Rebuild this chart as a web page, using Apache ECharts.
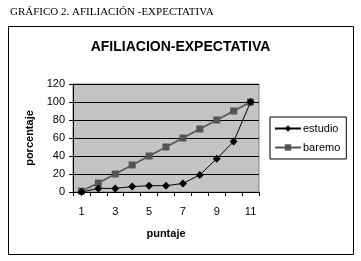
<!DOCTYPE html>
<html>
<head>
<meta charset="utf-8">
<script src="https://cdn.jsdelivr.net/npm/echarts@6/dist/echarts.min.js"></script>
<style>
  html, body { margin: 0; padding: 0; background: #fff; }
  #main { width: 361px; height: 261px; }
</style>
</head>
<body>
<div id="main"></div>
<script>
// data
const puntaje = ['1', '2', '3', '4', '5', '6', '7', '8', '9', '10', '11']
const estudio = [0, 4, 4, 6, 7, 7, 9.5, 19, 37, 56, 100]
const baremo = [1, 10, 20, 30, 40, 50, 60, 70, 80, 90, 100]

const myChart = echarts.init(document.getElementById('main'))
const font = 'Liberation Sans, Arial, sans-serif'

const option = {
  animation: false,
  backgroundColor: '#fff',
  textStyle: { fontFamily: font },
  graphic: [
    {
      type: 'text',
      left: 10,
      top: 7,
      style: {
        text: 'GRÁFICO 2. AFILIACIÓN -EXPECTATIVA',
        font: '11px "Liberation Serif", "Times New Roman", serif',
        fill: '#000'
      }
    },
    {
      type: 'rect',
      shape: { x: 8.5, y: 26.5, width: 345, height: 228 },
      style: { fill: 'none', stroke: '#000', lineWidth: 1 },
      z: 10
    }
  ],
  title: {
    text: 'AFILIACION-EXPECTATIVA',
    left: 'center',
    top: 35,
    textStyle: { fontSize: 14, fontWeight: 'bold', color: '#000', fontFamily: font }
  },
  legend: {
    orient: 'vertical',
    left: 270,
    top: 117,
    itemWidth: 26,
    itemHeight: 8,
    itemGap: 8,
    padding: [6, 6, 6, 4],
    borderColor: '#000',
    borderWidth: 1,
    backgroundColor: '#fff',
    textStyle: { fontSize: 11, color: '#000', fontFamily: font, padding: [0, 0, 0, -3] },
    data: ['estudio', 'baremo']
  },
  grid: {
    left: 73,
    top: 84,
    width: 186,
    height: 108,
    show: true,
    backgroundColor: '#c4c4c4',
    borderColor: '#808080',
    borderWidth: 1
  },
  xAxis: {
    type: 'category',
    data: puntaje,
    boundaryGap: true,
    name: 'puntaje',
    nameLocation: 'center',
    nameGap: 36,
    nameTextStyle: { fontSize: 11, fontWeight: 'bold', color: '#000' },
    axisLine: { lineStyle: { color: '#000', width: 1 } },
    axisTick: { show: true, interval: 0, length: 4, lineStyle: { color: '#000' } },
    axisLabel: { interval: 1, fontSize: 11, color: '#000', margin: 14 }
  },
  yAxis: {
    type: 'value',
    min: 0,
    max: 120,
    interval: 20,
    name: 'porcentaje',
    nameLocation: 'center',
    nameGap: 38,
    nameTextStyle: { fontSize: 11, fontWeight: 'bold', color: '#000' },
    axisLine: { show: true, lineStyle: { color: '#000', width: 1 } },
    axisTick: { show: true, length: 4, lineStyle: { color: '#000' } },
    axisLabel: { fontSize: 11, color: '#000', margin: 8 },
    splitLine: { show: true, lineStyle: { color: '#000', width: 1 } }
  },
  series: [
    {
      name: 'estudio',
      type: 'line',
      data: estudio,
      symbol: 'diamond',
      symbolSize: 8,
      color: '#000',
      lineStyle: { color: '#000', width: 1 },
      itemStyle: { color: '#000' },
      z: 3
    },
    {
      name: 'baremo',
      type: 'line',
      data: baremo,
      symbol: 'rect',
      symbolSize: 7,
      color: '#555',
      lineStyle: { color: '#555', width: 1.5 },
      itemStyle: { color: '#555' },
      z: 2
    }
  ]
}
myChart.setOption(option)
</script>
</body>
</html>
